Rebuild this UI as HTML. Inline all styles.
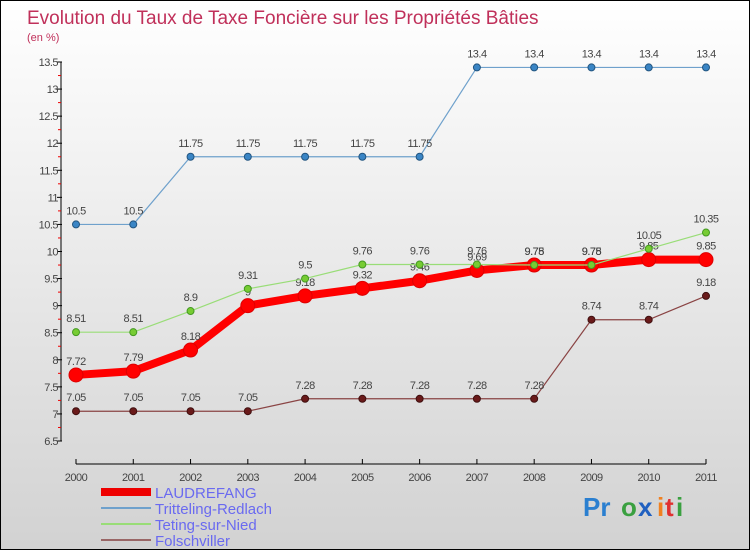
<!DOCTYPE html>
<html><head><meta charset="utf-8"><style>
body{margin:0}
#c{width:750px;height:550px;position:relative;box-sizing:border-box;border:1px solid #000;background:linear-gradient(#fff,#d2d2d2);font-family:"Liberation Sans",sans-serif;overflow:hidden}
text{font-family:"Liberation Sans",sans-serif}
</style></head><body>
<div id="c">
<svg id="s" width="750" height="550">
<text x="26" y="23" font-size="19" fill="#c0305a">Evolution du Taux de Taxe Foncière sur les Propriétés Bâties</text>
<text x="26" y="40" font-size="11" fill="#c0305a">(en %)</text>
<g id="g"></g>
<g>
<rect x="100" y="487" width="50" height="8" fill="#e00"/>
<line x1="100" y1="507" x2="150" y2="507" stroke="#6fa1cc" stroke-width="2"/>
<line x1="100" y1="523" x2="150" y2="523" stroke="#99dd77" stroke-width="2"/>
<line x1="100" y1="539" x2="150" y2="539" stroke="#996666" stroke-width="2"/>
<text x="154" y="497" font-size="15" fill="#6a6af0">LAUDREFANG</text>
<text x="154" y="513" font-size="15" fill="#6a6af0">Tritteling-Redlach</text>
<text x="154" y="529" font-size="15" fill="#6a6af0">Teting-sur-Nied</text>
<text x="154" y="545" font-size="15" fill="#6a6af0">Folschviller</text>
</g>
<g font-size="26" font-weight="bold">
<text x="582" y="515" fill="#2a7fd0">Pr</text><text x="620" y="515" fill="#3aa040">o</text><text x="637" y="515" fill="#2060c0">x</text><text x="656" y="515" fill="#f08020">i</text><text x="664" y="515" fill="#e03030">t</text><text x="675" y="515" fill="#3aa040">i</text>
</g>
</svg>
</div>
<script>
const years=["2000","2001","2002","2003","2004","2005","2006","2007","2008","2009","2010","2011"];
const yTicks=[6.5,7,7.5,8,8.5,9,9.5,10,10.5,11,11.5,12,12.5,13,13.5];
const laudrefang=[7.72,7.79,8.18,9,9.18,9.32,9.46,9.65,9.75,9.75,9.85,9.85];
const laudrefangLabels=["7.72","7.79","8.18","9","9.18","9.32","9.46","9.69","9.78","9.78","9.85","9.85"];
const tritteling=[10.5,10.5,11.75,11.75,11.75,11.75,11.75,13.4,13.4,13.4,13.4,13.4];
const teting=[8.51,8.51,8.9,9.31,9.5,9.76,9.76,9.76,9.75,9.75,10.05,10.35];
const folschviller=[7.05,7.05,7.05,7.05,7.28,7.28,7.28,7.28,7.28,8.74,8.74,9.18];
const NS="http://www.w3.org/2000/svg";
const g=document.getElementById('g');
const X=i=>75+i*(630/11);
const Y=v=>440-(v-6.5)*(379/7);
function el(t,a,p){const e=document.createElementNS(NS,t);for(const k in a)e.setAttribute(k,a[k]);(p||g).appendChild(e);return e;}
let e;
e=el('line',{x1:60,y1:Y(13.5),x2:60,y2:Y(6.5),stroke:'#000'});


yTicks.forEach(v=>{
 el('line',{x1:56,y1:Y(v),x2:61,y2:Y(v),stroke:'#000'});
 if(v<13.5){el('line',{x1:57,y1:Y(v+0.25),x2:60,y2:Y(v+0.25),stroke:'#e00'});}
 const t=el('text',{x:57,y:Y(v)+4,'font-size':11,fill:'#444','text-anchor':'end','letter-spacing':'-0.5'});t.textContent=String(v);
 
 
});
e=el('line',{x1:75,y1:463,x2:705,y2:463,stroke:'#000'});


years.forEach((y,i)=>{
 el('line',{x1:X(i),y1:458,x2:X(i),y2:463,stroke:'#000'});
 const t=el('text',{x:X(i),y:480,'font-size':11,fill:'#444','text-anchor':'middle','letter-spacing':'-0.5'});t.textContent=y;
 
 
});
function series(name,vals,labels,color,w,r,fill,stroke){
 const pts=vals.map((v,i)=>X(i)+','+Y(v)).join(' ');
 const l=el('polyline',{points:pts,fill:'none',stroke:color,'stroke-width':w,'stroke-linejoin':'round'});
 
 
 vals.forEach((v,i)=>{
  const c=el('circle',{cx:X(i),cy:Y(v),r:r,fill:fill,stroke:stroke,'stroke-width':1});
  
  
  const t=el('text',{x:X(i),y:Y(v)-10,'font-size':11,fill:'#444','text-anchor':'middle','letter-spacing':'-0.5'});
  t.textContent=labels?labels[i]:String(v);
  
  
 });
}
series('tritteling',tritteling,null,'#6fa1cc',1.2,3.5,'#3a85c5','#225580');
series('folschviller',folschviller,null,'#8a4444',1.2,3.5,'#6a1a1a','#401010');
series('laudrefang',laudrefang,laudrefangLabels,'#f00',8,7,'#f00','#d00');
series('teting',teting,null,'#99dd77',1.2,3.5,'#77cc33','#449922');
</script>
</body></html>
